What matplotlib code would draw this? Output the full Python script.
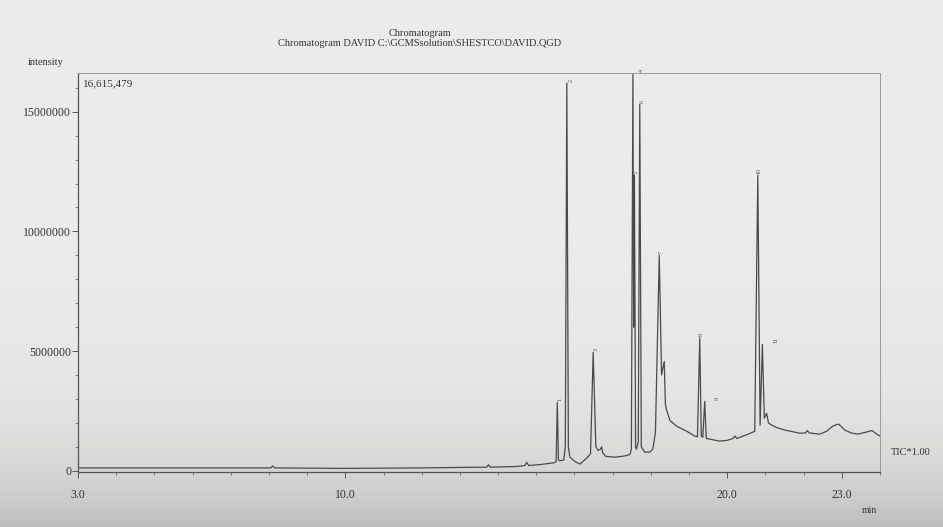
import numpy as np
import matplotlib.pyplot as plt
from matplotlib.ticker import MultipleLocator, FixedLocator

plt.rcParams['font.family'] = ['Liberation Serif', 'DejaVu Serif']

rt_min = [3.0, 5.0, 8.05, 8.1, 8.15, 10.0, 12.0, 13.0, 13.7, 13.75, 13.8, 14.5,
          14.7, 14.75, 14.8, 15.1, 15.45, 15.52, 15.55, 15.58, 15.62, 15.72,
          15.76, 15.80, 15.84, 15.88, 16.0, 16.14, 16.3, 16.42, 16.49, 16.56,
          16.62, 16.68, 16.71, 16.74, 16.82, 17.06, 17.32, 17.45, 17.49, 17.53,
          17.55, 17.57, 17.60, 17.62, 17.67, 17.71, 17.75, 17.84, 17.97, 18.05,
          18.12, 18.22, 18.28, 18.35, 18.38, 18.4, 18.5, 18.68, 18.94, 19.15,
          19.22, 19.28, 19.32, 19.36, 19.41, 19.45, 19.54, 19.8, 20.0, 20.15,
          20.2, 20.25, 20.58, 20.72, 20.80, 20.86, 20.92, 20.97, 21.03, 21.08,
          21.12, 21.3, 21.51, 21.9, 22.05, 22.1, 22.15, 22.42, 22.6, 22.76,
          22.85, 22.92, 23.08, 23.25, 23.42, 23.6, 23.79, 23.9, 24.0]
tic_m = [0.12, 0.12, 0.12, 0.2, 0.12, 0.1, 0.12, 0.14, 0.15, 0.25, 0.15, 0.18,
         0.22, 0.35, 0.22, 0.26, 0.33, 0.38, 2.86, 0.45, 0.42, 0.45,
         1.0, 16.2, 1.0, 0.57, 0.4, 0.28, 0.5, 0.7, 4.95, 1.0,
         0.85, 0.9, 1.0, 0.75, 0.6, 0.57, 0.62, 0.68, 0.9, 16.6,
         6.0, 12.35, 1.0, 0.9, 1.2, 15.3, 1.0, 0.78, 0.78, 0.9,
         1.6, 9.0, 4.0, 4.57, 2.8, 2.6, 2.1, 1.86, 1.65, 1.45,
         1.42, 5.56, 1.45, 1.4, 2.9, 1.35, 1.32, 1.24, 1.27, 1.35,
         1.45, 1.35, 1.55, 1.65, 12.35, 1.9, 5.28, 2.2, 2.4, 2.0,
         1.95, 1.8, 1.7, 1.57, 1.58, 1.68, 1.58, 1.53, 1.65, 1.86,
         1.92, 1.95, 1.7, 1.58, 1.53, 1.6, 1.68, 1.55, 1.45]

# Numéros des pics
peak_num = ['1', '2', '3', '4', '5', '6', '7', '8', '9', '10', '11']
peak_rt = [15.55, 15.80, 16.49, 17.53, 17.57, 17.71, 18.22, 19.28, 19.41, 20.80, 20.92]
peak_h = [2.86, 16.2, 4.95, 16.6, 12.35, 15.3, 9.0, 5.56, 2.9, 12.35, 5.28]
label_dx = [2, 3, 2, 6, 1, 2, 1, 1, 9, 1, 10]   # décalage en points

y_max = 16615479

fig = plt.figure(figsize=(9.43, 5.27), dpi=100)
fig.patch.set_facecolor('#e6e6e4')

# fond "papier scanné"
bg = fig.add_axes([0, 0, 1, 1], zorder=-10)
grad = np.linspace(0, 1, 200)[:, None] ** 6
bg.imshow(grad, aspect='auto', cmap='Greys', vmin=-0.6, vmax=3.5,
          extent=[0, 1, 0, 1], alpha=0.9)
bg.axis('off')

ax = fig.add_axes([0.0827, 0.1044, 0.8505, 0.757])
ax.patch.set_alpha(0)
ax.plot(rt_min, np.array(tic_m) * 1e6, color='#4a4a4a', lw=0.9)

for n, t, h, dx in zip(peak_num, peak_rt, peak_h, label_dx):
    ax.annotate(n, (t, h * 1e6), xytext=(dx, 1), textcoords='offset points',
                fontsize=4.5, rotation=90, ha='center', va='bottom', color='#555555')

ax.set_xlim(3.0, 24.0)
ax.set_ylim(-0.05e6, y_max)

ax.xaxis.set_major_locator(FixedLocator([3.0, 10.0, 20.0, 23.0]))
ax.set_xticklabels(['3.0', '10.0', '20.0', '23.0'])
ax.xaxis.set_minor_locator(MultipleLocator(1.0))
ax.yaxis.set_major_locator(FixedLocator([0, 5000000, 10000000, 15000000]))
ax.set_yticklabels(['0', '5000000', '10000000', '15000000'])
ax.yaxis.set_minor_locator(MultipleLocator(1000000))

ax.tick_params(axis='both', which='major', direction='out', length=4, width=0.7,
               colors='#555555', labelsize=8.5, labelcolor='#333333')
ax.tick_params(axis='x', which='major', pad=8)
ax.tick_params(axis='y', which='major', pad=1)
ax.tick_params(axis='both', which='minor', direction='out', length=2.5, width=0.6,
               colors='#666666')

for side in ['top', 'right']:
    ax.spines[side].set_color('#9a9a9a')
    ax.spines[side].set_linewidth(0.7)
for side in ['left', 'bottom']:
    ax.spines[side].set_color('#555555')
    ax.spines[side].set_linewidth(0.9)

# Textes
fig.text(0.4454, 0.936, 'Chromatogram', ha='center', va='center', fontsize=7.5, color='#333333')
fig.text(0.4454, 0.918, 'Chromatogram DAVID C:\\GCMSsolution\\SHESTCO\\DAVID.QGD',
         ha='center', va='center', fontsize=7.5, color='#333333')
fig.text(0.048, 0.882, 'intensity', ha='center', va='center', fontsize=7.5, color='#333333')
ax.text(0.006, 0.985, '16,615,479', transform=ax.transAxes, ha='left', va='top',
        fontsize=8, color='#333333')
fig.text(0.945, 0.142, 'TIC*1.00', ha='left', va='center', fontsize=7.5, color='#333333')
fig.text(0.922, 0.032, 'min', ha='center', va='center', fontsize=7, color='#333333')

plt.savefig('out.png', dpi=100, facecolor=fig.get_facecolor())
